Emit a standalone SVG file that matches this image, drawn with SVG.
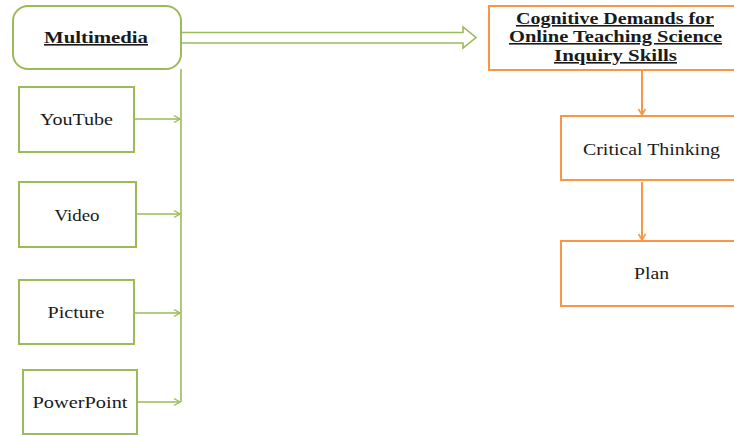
<svg xmlns="http://www.w3.org/2000/svg" width="734" height="435" viewBox="0 0 734 435">
<style>
.g{fill:#fff;stroke:#9bbb59;stroke-width:2}
.o{fill:#fff;stroke:#f79646;stroke-width:2}
.t{font-family:"Liberation Serif","Times New Roman",serif;font-size:16px;fill:#1a1a1a;text-anchor:middle}
.b{font-weight:bold;text-decoration:underline}
.gl{fill:none;stroke:#9bbb59;stroke-width:1.6}
.ol{fill:none;stroke:#f79646;stroke-width:2}
</style>
<defs>
<marker id="ga" markerWidth="10" markerHeight="10" refX="8" refY="5" orient="auto" markerUnits="userSpaceOnUse">
<path d="M2,1.5 L8,5 L2,8.5" fill="none" stroke="#9bbb59" stroke-width="1.4"/>
</marker>
<marker id="oa" markerWidth="10" markerHeight="10" refX="8" refY="5" orient="auto" markerUnits="userSpaceOnUse">
<path d="M2,1.5 L8,5 L2,8.5" fill="none" stroke="#f79646" stroke-width="1.6"/>
</marker>
</defs>
<g id="connectors">
<line class="gl" x1="181" y1="69" x2="181" y2="402"/>
<line class="gl" x1="134" y1="119" x2="180" y2="119" marker-end="url(#ga)"/>
<line class="gl" x1="136" y1="214" x2="180" y2="214" marker-end="url(#ga)"/>
<line class="gl" x1="134" y1="313" x2="180" y2="313" marker-end="url(#ga)"/>
<line class="gl" x1="137" y1="402" x2="180" y2="402" marker-end="url(#ga)"/>
<path class="gl" d="M181,32.5 H463 V27 L476,37.5 L463,48 V43 H181"/>
<line class="ol" x1="642" y1="70" x2="642" y2="115" marker-end="url(#oa)"/>
<line class="ol" x1="642" y1="182" x2="642" y2="240" marker-end="url(#oa)"/>
</g>
<g id="multimedia">
<rect class="g" x="13" y="6" width="168" height="63" rx="15"/>
<text class="t b" x="96" y="43" textLength="104" lengthAdjust="spacingAndGlyphs">Multimedia</text>
</g>
<g id="youtube">
<rect class="g" x="19" y="87" width="115" height="65"/>
<text class="t" x="76.5" y="125" textLength="73" lengthAdjust="spacingAndGlyphs">YouTube</text>
</g>
<g id="video">
<rect class="g" x="19" y="182" width="117" height="65"/>
<text class="t" x="77" y="221" textLength="45" lengthAdjust="spacingAndGlyphs">Video</text>
</g>
<g id="picture">
<rect class="g" x="19" y="280" width="115" height="64"/>
<text class="t" x="76" y="318" textLength="57" lengthAdjust="spacingAndGlyphs">Picture</text>
</g>
<g id="powerpoint">
<rect class="g" x="23" y="370" width="114" height="64"/>
<text class="t" x="80" y="408" textLength="95" lengthAdjust="spacingAndGlyphs">PowerPoint</text>
</g>
<g id="cognitive">
<rect class="o" x="489" y="6" width="260" height="64"/>
<text class="t b" x="615" y="24" textLength="198" lengthAdjust="spacingAndGlyphs">Cognitive Demands for</text>
<text class="t b" x="615.5" y="42" textLength="213" lengthAdjust="spacingAndGlyphs">Online Teaching Science</text>
<text class="t b" x="615.5" y="61" textLength="123" lengthAdjust="spacingAndGlyphs">Inquiry Skills</text>
</g>
<g id="critical">
<rect class="o" x="561" y="116" width="190" height="64"/>
<text class="t" x="651.5" y="155" textLength="137" lengthAdjust="spacingAndGlyphs">Critical  Thinking</text>
</g>
<g id="plan">
<rect class="o" x="561" y="241" width="190" height="65"/>
<text class="t" x="651.5" y="279" textLength="35" lengthAdjust="spacingAndGlyphs">Plan</text>
</g>
</svg>
